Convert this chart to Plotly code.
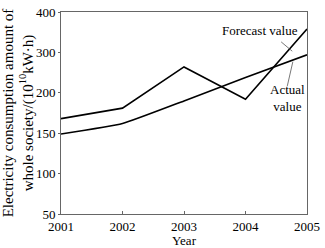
import plotly.graph_objects as go
import numpy as np

years = [2001, 2002, 2003, 2004, 2005]
forecast = [168, 181, 264, 192, 358]
actual = [149, 162, 190, 238, 294]
ytick_values = [50, 100, 150, 200, 300, 400]

# Axis in the source has evenly spaced, non-linear tick labels
tick_pos = list(range(len(ytick_values)))
def ymap(v):
    return list(np.interp(v, ytick_values, tick_pos))

FONT = "Liberation Serif"
fig = go.Figure()
fig.add_trace(go.Scatter(x=years, y=ymap(forecast), mode="lines",
                         line=dict(color="black", width=1.6), showlegend=False))
fig.add_trace(go.Scatter(x=years, y=ymap(actual), mode="lines",
                         line=dict(color="black", width=1.6, shape="spline", smoothing=0.4),
                         showlegend=False))

fig.add_annotation(x=2004.24, y=4.54, text="Forecast value", showarrow=False,
                   font=dict(family=FONT, size=13, color="black"))
fig.add_annotation(x=2004.68, y=2.86, text="Actual<br>value", showarrow=False,
                   font=dict(family=FONT, size=13, color="black"))
fig.add_shape(type="line", x0=2004.58, y0=4.26, x1=2004.76, y1=4.03,
              line=dict(color="#555", width=0.8))
fig.add_shape(type="line", x0=2004.68, y0=3.17, x1=2004.77, y1=3.77,
              line=dict(color="#555", width=0.8))

fig.update_layout(
    width=325, height=248,
    margin=dict(l=52, r=9, t=5, b=27),
    plot_bgcolor="white", paper_bgcolor="white",
    font=dict(family=FONT, size=13, color="black"),
)
fig.update_xaxes(range=[2001, 2005], tickvals=years, ticks="inside", ticklen=3,
                 showgrid=False, zeroline=False, showline=True, mirror=True,
                 linecolor="#666", linewidth=1, tickcolor="#666",
                 ticklabeloverflow="allow",
                 title=dict(text="Year", standoff=0, font=dict(size=13)))
fig.update_yaxes(range=[0, 5], tickvals=tick_pos, ticktext=[str(v) for v in ytick_values],
                 ticks="outside", ticklen=2, showgrid=False, zeroline=False,
                 showline=True, mirror=True, linecolor="#666", linewidth=1, tickcolor="#666",
                 ticklabeloverflow="allow",
                 title=dict(text="Electricity consumption amount of<br>whole society/(10<sup>10</sup>kW·h)",
                            standoff=1, font=dict(size=15)))
fig.write_html("out.html")
